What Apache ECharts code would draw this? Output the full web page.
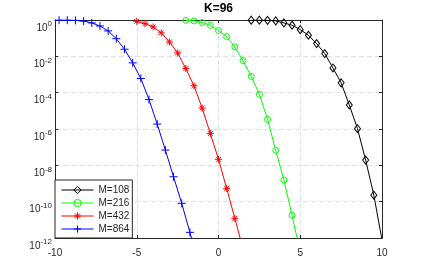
<!DOCTYPE html>
<html>
<head>
<meta charset="utf-8">
<script src="https://cdn.jsdelivr.net/npm/echarts@6/dist/echarts.min.js"></script>
<style>
html,body{margin:0;padding:0;background:#fff;}
#chart{width:422px;height:268px;}
</style>
</head>
<body>
<div id="chart"></div>
<script>
// Data (y values are exponents: value = 10^e)
var titleText = 'K=96';
var seriesNames = ['M=108', 'M=216', 'M=432', 'M=864'];
var xTickValues = [-10, -5, 0, 5, 10];
var yTickExponents = [-12, -10, -8, -6, -4, -2, 0];

var blackX = [2, 2.5, 3, 3.5, 4, 4.5, 5, 5.5, 6, 6.5, 7, 7.5, 8, 8.5, 9, 9.5, 10];
var blackE = [-0.01, -0.01, -0.02, -0.05, -0.16, -0.29, -0.53, -0.84, -1.30, -1.85, -2.64, -3.46, -4.68, -5.98, -7.71, -9.64, -12.1];

var greenX = [-2, -1.5, -1, -0.5, 0, 0.5, 1, 1.5, 2, 2.5, 3, 3.5, 4, 4.5, 5];
var greenE = [-0.02, -0.05, -0.14, -0.29, -0.58, -0.91, -1.48, -2.23, -3.10, -4.09, -5.47, -7.18, -8.81, -10.75, -12.8];

var redX = [-5, -4.5, -4, -3.5, -3, -2.5, -2, -1.5, -1, -0.5, 0, 0.5, 1, 1.5];
var redE = [-0.07, -0.2, -0.38, -0.71, -1.21, -1.81, -2.67, -3.62, -4.85, -6.25, -7.67, -9.27, -10.92, -12.6];

var blueX = [-9.75, -9.25, -8.75, -8.25, -7.75, -7.25, -6.75, -6.25, -5.75, -5.25, -4.75, -4.25, -3.75, -3.25, -2.75, -2.25, -1.75, -1.25];
var blueE = [-0.01, -0.01, -0.02, -0.06, -0.16, -0.33, -0.6, -1.03, -1.61, -2.36, -3.22, -4.38, -5.73, -7.16, -8.63, -10.09, -11.69, -13.3];

function pairs(xs, es) {
  var out = [];
  for (var i = 0; i < xs.length; i++) out.push([xs[i], es[i]]);
  return out;
}

var FONT = 'Liberation Sans, Arial, Helvetica, sans-serif';
var AX = '#262626';
var GRIDC = '#dedede';

var PLUS = 'path://M0,5L10,5M5,0L5,10';
var STAR = 'path://M5,0L5,10M0,5L10,5M1.5,1.5L8.5,8.5M1.5,8.5L8.5,1.5';

function mkSeries(name, xs, es, color, symbol, size) {
  return {
    name: name,
    type: 'line',
    data: pairs(xs, es),
    symbol: symbol,
    symbolSize: size,
    showAllSymbol: true,
    clip: true,
    lineStyle: { color: color, width: 1 },
    itemStyle: { color: 'rgba(0,0,0,0)', borderColor: color, borderWidth: 1 },
    emphasis: { disabled: true },
    animation: false,
    z: 3
  };
}

var chart = echarts.init(document.getElementById('chart'), null, { renderer: 'canvas' });

var tickCommon = { show: true, inside: true, length: 3, lineStyle: { color: AX, width: 1 } };
var lineCommon = { show: true, onZero: false, lineStyle: { color: AX, width: 1 } };

chart.setOption({
  animation: false,
  backgroundColor: '#fff',
  textStyle: { fontFamily: FONT },
  title: {
    text: titleText,
    left: 218.5,
    textAlign: 'center',
    top: 3,
    padding: 0,
    textStyle: { fontSize: 12, fontWeight: 'bold', color: '#000', fontFamily: FONT }
  },
  grid: {
    left: 55, right: 40, top: 20, bottom: 30,
    containLabel: false,
    outerBoundsMode: 'none'
  },
  legend: {
    orient: 'vertical',
    left: 55,
    bottom: 30,
    data: seriesNames,
    itemWidth: 32,
    itemHeight: 9,
    itemGap: 3,
    itemTextGap: 5,
    padding: [5, 3, 4, 6],
    backgroundColor: '#fff',
    borderColor: AX,
    borderWidth: 1,
    borderRadius: 0,
    selectedMode: false,
    itemStyle: { color: 'rgba(0,0,0,0)', borderColor: 'inherit', borderWidth: 1 },
    lineStyle: { width: 1, color: 'inherit' },
    textStyle: { fontSize: 10, color: AX, fontFamily: FONT },
    z: 10
  },
  xAxis: [
    {
      type: 'value', min: -10, max: 10, interval: 5, position: 'bottom',
      axisLine: lineCommon,
      axisTick: tickCommon,
      axisLabel: { color: AX, fontSize: 10, margin: 10, fontFamily: FONT,
        formatter: function (v) { return String(v); } },
      splitLine: { show: true, lineStyle: { color: GRIDC, width: 1, type: [5, 3] } }
    },
    {
      type: 'value', min: -10, max: 10, interval: 5, position: 'top',
      axisLine: lineCommon,
      axisTick: tickCommon,
      axisLabel: { show: false },
      splitLine: { show: false }
    }
  ],
  yAxis: [
    {
      type: 'value', min: -12, max: 0, interval: 2, position: 'left',
      axisLine: lineCommon,
      axisTick: tickCommon,
      axisLabel: {
        color: AX, margin: 3, fontFamily: FONT,
        formatter: function (v) { return '{a|10}{b|' + v + '}'; },
        rich: {
          a: { fontSize: 10, lineHeight: 10, padding: [8, 0, 0, 0], verticalAlign: 'top', color: AX, fontFamily: FONT },
          b: { fontSize: 8, lineHeight: 8, padding: [5, 0, 0, 0], verticalAlign: 'top', color: AX, fontFamily: FONT }
        }
      },
      splitLine: { show: true, lineStyle: { color: GRIDC, width: 1, type: [5, 3] } }
    },
    {
      type: 'value', min: -12, max: 0, interval: 2, position: 'right',
      axisLine: lineCommon,
      axisTick: tickCommon,
      axisLabel: { show: false },
      splitLine: { show: false }
    }
  ],
  series: [
    mkSeries(seriesNames[0], blackX, blackE, '#000000', 'diamond', [6, 8]),
    mkSeries(seriesNames[1], greenX, greenE, '#00ff00', 'circle', 6),
    mkSeries(seriesNames[2], redX, redE, '#ff0000', STAR, 7),
    mkSeries(seriesNames[3], blueX, blueE, '#0000ff', PLUS, 8)
  ]
});
</script>
</body>
</html>
